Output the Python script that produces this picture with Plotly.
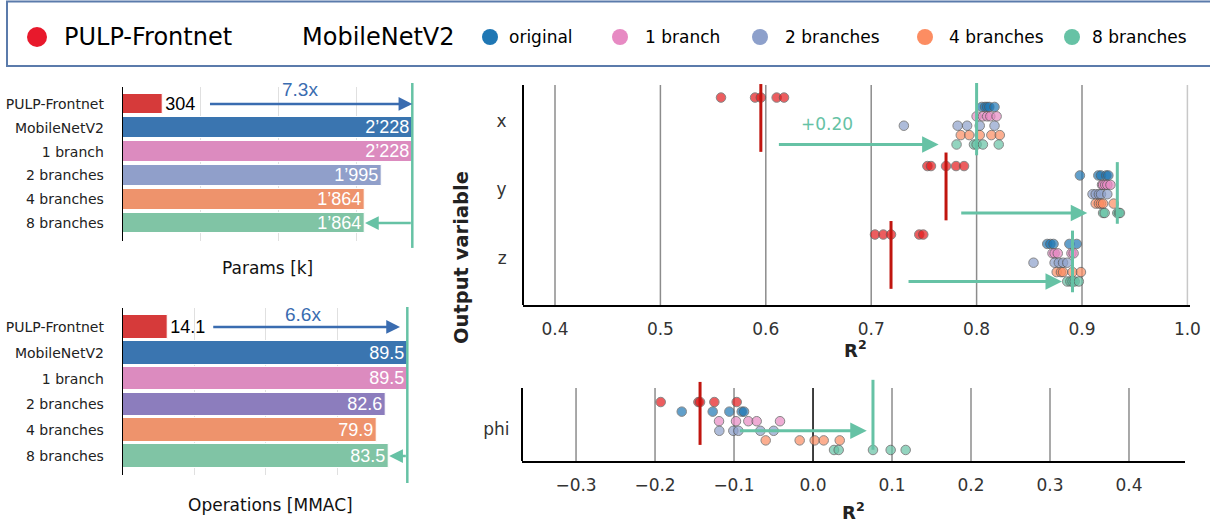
import statistics
import plotly.graph_objects as go

W, H = 1210, 525

# ---------------- data ----------------
models = ["PULP-Frontnet", "MobileNetV2", "1 branch", "2 branches", "4 branches", "8 branches"]
params_k = [304, 2228, 2228, 1995, 1864, 1864]
ops_mmac = [14.1, 89.5, 89.5, 82.6, 79.9, 83.5]
params_colors = ["#d63a3a", "#3a75b0", "#dc8bbf", "#909fca", "#ee936c", "#80c4a5"]
ops_colors = ["#d63a3a", "#3a75b0", "#dc8bbf", "#8c7dbd", "#ee936c", "#80c4a5"]
params_grid = [600, 1200, 1800]
ops_grid = [22.5, 45, 67.5]
speedup_params = "7.3x"
speedup_ops = "6.6x"
params_arrow = (660, 2228)      # tail, head (k)
ops_arrow = (28.0, 87.2)        # tail, head (MMAC)
params_back_arrow = (2228, 1864)
ops_back_arrow = (89.5, 83.8)

outputs = ["x", "y", "z"]
groups = ["PULP-Frontnet", "original", "1 branch", "2 branches", "4 branches", "8 branches"]
group_colors = ["#e41a1c", "#1f77b4", "#e78ac3", "#8da0cb", "#fc8d62", "#66c2a5"]

r2_pulp = dict(x=[0.5575, 0.5898, 0.5953, 0.6103, 0.6173],
               y=[0.7533, 0.7567, 0.7710, 0.7805, 0.7881],
               z=[0.7036, 0.7115, 0.7188, 0.7456, 0.7494],
               phi=[-0.1928, -0.1451, -0.1430, -0.1249, -0.0966])
r2_original = dict(x=[0.805, 0.808, 0.810, 0.812, 0.817],
                   y=[0.898, 0.9155, 0.918, 0.923, 0.925],
                   z=[0.867, 0.870, 0.873, 0.888, 0.895],
                   phi=[-0.1662, -0.1270, -0.1059, -0.0903, -0.0873])
r2_1branch = dict(x=[0.800, 0.806, 0.810, 0.813, 0.819],
                  y=[0.919, 0.920, 0.922, 0.924, 0.927],
                  z=[0.872, 0.874, 0.877, 0.890, 0.892],
                  phi=[-0.1190, -0.0975, -0.0819, -0.0713, -0.0418])
r2_2branches = dict(x=[0.731, 0.782, 0.791, 0.803, 0.817],
                    y=[0.910, 0.913, 0.916, 0.918, 0.924],
                    z=[0.854, 0.874, 0.878, 0.882, 0.886],
                    phi=[-0.1186, -0.1009, -0.0945, -0.0667, -0.0498])
r2_4branches = dict(x=[0.785, 0.793, 0.803, 0.814, 0.822],
                    y=[0.913, 0.916, 0.918, 0.920, 0.930],
                    z=[0.876, 0.880, 0.882, 0.891, 0.899],
                    phi=[-0.0599, -0.0169, 0.0021, 0.0135, 0.0338])
r2_8branches = dict(x=[0.781, 0.7975, 0.800, 0.806, 0.821],
                    y=[0.920, 0.9215, 0.9335, 0.935, 0.936],
                    z=[0.886, 0.889, 0.891, 0.893, 0.897],
                    phi=[0.0266, 0.0325, 0.0759, 0.0983, 0.1173])
r2_by_group = [r2_pulp, r2_original, r2_1branch, r2_2branches, r2_4branches, r2_8branches]

gain_from = dict(x=0.611, y=0.784, z=0.734, phi=-0.0945)
gain_to = dict(x=0.764, y=0.905, z=0.881, phi=0.068)
gain_label = "+0.20"

r2_ticks = [0.4, 0.5, 0.6, 0.7, 0.8, 0.9, 1.0]
phi_ticks = [-0.3, -0.2, -0.1, 0.0, 0.1, 0.2, 0.3, 0.4]

# ---------------- style ----------------
FONT = "DejaVu Sans"
NUMFONT = "Liberation Sans"
GREEN = "#66c2a5"
BLUE_ARROW = "#3a6cb0"
RED_LINE = "#c0150f"
GRID = "#8c8c8c"


def px(x):
    return x / W


def py(y):
    return 1 - y / H


def fmt_k(v):
    return f"{v:,}".replace(",", "\u2019")


def minus(v):
    s = f"{v:.1f}"
    return s.replace("-", "\u2212")


def label(x, y, text, size, color="#111", family=FONT, xanchor="center", **kw):
    return dict(x=px(x), y=py(y), xref="paper", yref="paper", text=text, showarrow=False,
                xanchor=xanchor, yanchor="middle", font=dict(family=family, size=size, color=color), **kw)


fig = go.Figure()

# ---- bar charts ----
fig.add_trace(go.Bar(
    x=params_k, y=models, orientation="h", xaxis="x", yaxis="y",
    marker=dict(color=params_colors, line=dict(color="white", width=1)),
    width=0.88,
    text=[fmt_k(v) for v in params_k],
    textposition=["outside"] + ["inside"] * 5,
    insidetextanchor="end", constraintext="none", cliponaxis=False,
    insidetextfont=dict(color="white", size=18, family=NUMFONT),
    outsidetextfont=dict(color="black", size=18, family=NUMFONT),
    showlegend=False, hoverinfo="skip",
))
fig.add_trace(go.Bar(
    x=ops_mmac, y=models, orientation="h", xaxis="x2", yaxis="y2",
    marker=dict(color=ops_colors, line=dict(color="white", width=1)),
    width=0.92,
    text=[f"{v:.1f}" for v in ops_mmac],
    textposition=["outside"] + ["inside"] * 5,
    insidetextanchor="end", constraintext="none", cliponaxis=False,
    insidetextfont=dict(color="white", size=18, family=NUMFONT),
    outsidetextfont=dict(color="black", size=18, family=NUMFONT),
    showlegend=False, hoverinfo="skip",
))

# ---- scatter (x, y, z) and phi ----
off = [(g - 2.5) * 0.137 for g in range(6)]
for g, (name, col, data) in enumerate(zip(groups, group_colors, r2_by_group)):
    xs, ys = [], []
    for r, o in enumerate(outputs):
        xs += data[o]
        ys += [r + off[g]] * len(data[o])
    fig.add_trace(go.Scatter(
        x=xs, y=ys, mode="markers", xaxis="x3", yaxis="y3",
        marker=dict(size=9.5, color=col, opacity=0.7, line=dict(color="#555555", width=1)),
        showlegend=False, hoverinfo="skip", cliponaxis=False,
    ))
    fig.add_trace(go.Scatter(
        x=data["phi"], y=[off[g]] * len(data["phi"]), mode="markers", xaxis="x4", yaxis="y4",
        marker=dict(size=9.5, color=col, opacity=0.7, line=dict(color="#555555", width=1)),
        showlegend=False, hoverinfo="skip", cliponaxis=False,
    ))

shapes = []
annotations = []

# grid lines on R2 plots
top_grid_y0, top_grid_y1 = -0.526, 2.686
for t in r2_ticks:
    shapes.append(dict(type="line", xref="x3", yref="y3", x0=t, x1=t, y0=top_grid_y0, y1=top_grid_y1,
                       line=dict(color="#c8c8c8" if t == 1.0 else GRID, width=1.5), layer="below"))
phi_grid_y0, phi_grid_y1 = -0.543, 0.5
for t in phi_ticks:
    shapes.append(dict(type="line", xref="x4", yref="y4", x0=t, x1=t, y0=phi_grid_y0, y1=phi_grid_y1,
                       line=dict(color="black" if t == 0.0 else GRID, width=1.5), layer="below"))
# left spines
shapes.append(dict(type="line", xref="x3 domain", yref="y3", x0=0, x1=0, y0=top_grid_y0, y1=top_grid_y1,
                   line=dict(color="black", width=2)))
shapes.append(dict(type="line", xref="x4 domain", yref="y4", x0=0, x1=0, y0=phi_grid_y0, y1=phi_grid_y1,
                   line=dict(color="black", width=2)))

# median lines + gain arrows
for r, o in enumerate(outputs):
    mp = statistics.median(r2_pulp[o])
    m8 = statistics.median(r2_8branches[o])
    shapes.append(dict(type="line", xref="x3", yref="y3", x0=mp, x1=mp, y0=r - 0.54, y1=r + 0.45,
                       line=dict(color=RED_LINE, width=3)))
    shapes.append(dict(type="line", xref="x3", yref="y3", x0=m8, x1=m8,
                       y0=r - (0.555 if r == 0 else 0.40), y1=r + 0.50,
                       line=dict(color=GREEN, width=3)))
    ya = r + off[5]
    annotations.append(dict(x=gain_to[o], y=ya, ax=gain_from[o], ay=ya, xref="x3", yref="y3",
                            axref="x3", ayref="y3", text="", showarrow=True, arrowhead=2,
                            arrowsize=1.1, arrowwidth=3, arrowcolor=GREEN))
mp = statistics.median(r2_pulp["phi"])
m8 = statistics.median(r2_8branches["phi"])
shapes.append(dict(type="line", xref="x4", yref="y4", x0=mp, x1=mp, y0=-0.63, y1=0.27,
                   line=dict(color=RED_LINE, width=3)))
shapes.append(dict(type="line", xref="x4", yref="y4", x0=m8, x1=m8, y0=-0.66, y1=0.34,
                   line=dict(color=GREEN, width=3)))
annotations.append(dict(x=gain_to["phi"], y=off[3], ax=gain_from["phi"], ay=off[3], xref="x4", yref="y4",
                        axref="x4", ayref="y4", text="", showarrow=True, arrowhead=2,
                        arrowsize=1.1, arrowwidth=3, arrowcolor=GREEN))
annotations.append(label(827, 124, gain_label, 17, color=GREEN))

# bar chart decorations
shapes.append(dict(type="line", xref="x", yref="y domain", x0=params_k[1], x1=params_k[1],
                   y0=-0.045, y1=1.026, line=dict(color=GREEN, width=2.5)))
shapes.append(dict(type="line", xref="x2", yref="y2 domain", x0=ops_mmac[1], x1=ops_mmac[1],
                   y0=-0.048, y1=1.006, line=dict(color=GREEN, width=2.5)))
annotations.append(dict(x=params_arrow[1], y=0, ax=params_arrow[0], ay=0, xref="x", yref="y",
                        axref="x", ayref="y", text="", showarrow=True, arrowhead=2,
                        arrowsize=1.1, arrowwidth=2.5, arrowcolor=BLUE_ARROW))
annotations.append(dict(x=ops_arrow[1], y=0, ax=ops_arrow[0], ay=0, xref="x2", yref="y2",
                        axref="x2", ayref="y2", text="", showarrow=True, arrowhead=2,
                        arrowsize=1.1, arrowwidth=2.5, arrowcolor=BLUE_ARROW))
annotations.append(dict(x=params_back_arrow[1], y=5, ax=params_back_arrow[0], ay=5, xref="x", yref="y",
                        axref="x", ayref="y", text="", showarrow=True, arrowhead=2,
                        arrowsize=1.1, arrowwidth=2.5, arrowcolor=GREEN))
annotations.append(dict(x=ops_back_arrow[1], y=5, ax=ops_back_arrow[0], ay=5, xref="x2", yref="y2",
                        axref="x2", ayref="y2", text="", showarrow=True, arrowhead=2,
                        arrowsize=1.1, arrowwidth=2.5, arrowcolor=GREEN))
annotations.append(label(300, 89, speedup_params, 19, color=BLUE_ARROW, family=NUMFONT))
annotations.append(label(303, 314, speedup_ops, 19, color=BLUE_ARROW, family=NUMFONT))

# axis titles
annotations.append(label(267, 268, "Params [k]", 17))
annotations.append(label(270, 505, "Operations [MMAC]", 17))
annotations.append(label(855, 349, "<b>R<sup>2</sup></b>", 18, color="#222"))
annotations.append(label(853, 511, "<b>R<sup>2</sup></b>", 18, color="#222"))
annotations.append(label(461, 258, "<b>Output variable</b>", 19.5, color="#222", textangle=-90))

# legend box
shapes.append(dict(type="rect", xref="paper", yref="paper", x0=px(7), x1=px(1213), y0=py(66), y1=py(1.5),
                   line=dict(color="#5b7bab", width=2), fillcolor="white", layer="below"))
shapes.append(dict(type="circle", xref="paper", yref="paper", x0=px(27), x1=px(47), y0=py(47), y1=py(27),
                   line=dict(width=0), fillcolor="#e8192c"))
annotations.append(label(62, 37, "PULP-Frontnet", 24, color="black", xanchor="left"))
annotations.append(label(300, 37, "MobileNetV2", 24, color="black", xanchor="left"))
legend_dot_x = [490, 620, 760, 925, 1072]
legend_text_x = [507, 643, 783, 947, 1090]
for name, col, dx, tx in zip(groups[1:], group_colors[1:], legend_dot_x, legend_text_x):
    shapes.append(dict(type="circle", xref="paper", yref="paper", x0=px(dx - 8), x1=px(dx + 8),
                       y0=py(45), y1=py(29), line=dict(width=0), fillcolor=col))
    annotations.append(label(tx, 37, name, 17, color="black", xanchor="left"))

hidden_tick = dict(ticks="outside", tickcolor="rgba(0,0,0,0)")

fig.update_layout(
    width=W, height=H, margin=dict(l=0, r=0, t=0, b=0),
    template="none", paper_bgcolor="white", plot_bgcolor="rgba(0,0,0,0)",
    showlegend=False, bargap=0,
    shapes=shapes, annotations=annotations,
    xaxis=dict(domain=[px(122.7), px(420)], range=[0, 297.3 / 0.12998], anchor="y",
               tickvals=params_grid, showticklabels=False, showgrid=True, gridcolor="#e0e0e0",
               gridwidth=1, zeroline=False, showline=False, ticks=""),
    yaxis=dict(domain=[py(241), py(87)], range=[5.756, -0.714], anchor="x", type="category",
               categoryorder="array", categoryarray=models, showline=True, linecolor="black",
               linewidth=1, showgrid=False, zeroline=False, ticklen=15, **hidden_tick,
               tickfont=dict(family=FONT, size=14, color="#222")),
    xaxis2=dict(domain=[px(122.7), px(415)], range=[0, 292.3 / 3.18], anchor="y2",
                tickvals=ops_grid, showticklabels=False, showgrid=True, gridcolor="#e0e0e0",
                gridwidth=1, zeroline=False, showline=False, ticks=""),
    yaxis2=dict(domain=[py(475), py(308)], range=[5.736, -0.736], anchor="x2", type="category",
                categoryorder="array", categoryarray=models, showline=True, linecolor="black",
                linewidth=1, showgrid=False, zeroline=False, ticklen=15, **hidden_tick,
                tickfont=dict(family=FONT, size=14, color="#222")),
    xaxis3=dict(domain=[px(523), px(1190)], range=[0.36964, 1.00247], anchor="y3",
                tickvals=r2_ticks, ticktext=[f"{t:.1f}" for t in r2_ticks], showgrid=False,
                zeroline=False, showline=True, linecolor="black", linewidth=2, ticklen=8, **hidden_tick,
                tickfont=dict(family=FONT, size=17, color="#333")),
    yaxis3=dict(domain=[py(305), py(80)], range=[2.686, -0.599], anchor="x3",
                tickvals=[0, 1, 2], ticktext=outputs, showgrid=False, zeroline=False, showline=False,
                ticklen=12, **hidden_tick, tickfont=dict(family=FONT, size=17, color="#333")),
    xaxis4=dict(domain=[px(522), px(1185)], range=[-0.3684, 0.4709], anchor="y4",
                tickvals=phi_ticks, ticktext=[minus(t) for t in phi_ticks], showgrid=False,
                zeroline=False, showline=True, linecolor="black", linewidth=2, ticklen=8, **hidden_tick,
                tickfont=dict(family=FONT, size=17, color="#333")),
    yaxis4=dict(domain=[py(461), py(378)], range=[0.5, -0.686], anchor="x4",
                tickvals=[0.05], ticktext=["phi"], showgrid=False, zeroline=False, showline=False,
                ticklen=8, **hidden_tick, tickfont=dict(family=FONT, size=17, color="#333")),
)

fig.write_html("out.html", config={"displayModeBar": False},
               post_script="document.body.style.margin='0px';")
